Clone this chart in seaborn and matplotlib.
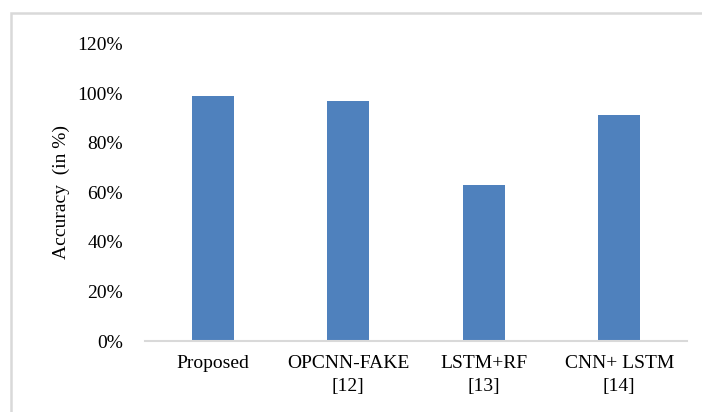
import matplotlib
matplotlib.use("Agg")
import matplotlib.pyplot as plt
from matplotlib.patches import Rectangle
from matplotlib.ticker import PercentFormatter
import seaborn as sns
import pandas as pd

# Accuracy of each method (fraction)
methods = ["Proposed", "OPCNN-FAKE\n[12]", "LSTM+RF\n[13]", "CNN+ LSTM\n[14]"]
accuracy = [0.99, 0.97, 0.63, 0.91]
y_ticks = [0.0, 0.2, 0.4, 0.6, 0.8, 1.0, 1.2]

df = pd.DataFrame({"method": methods, "accuracy": accuracy})

sns.set_style("white")
plt.rcParams["font.family"] = ["Liberation Serif", "DejaVu Serif"]
plt.rcParams["text.color"] = "black"
plt.rcParams["xtick.color"] = "black"
plt.rcParams["ytick.color"] = "black"
plt.rcParams["axes.labelcolor"] = "black"

fs = 14

fig = plt.figure(figsize=(7.02, 4.12), dpi=100)
ax = fig.add_axes([145 / 702, 1 - 341 / 412, 542 / 702, (341 - 43.5) / 412])

sns.barplot(data=df, x="method", y="accuracy", color="#4F81BD", width=0.31,
            saturation=1, linewidth=0, ax=ax)

ax.set_ylim(0, 1.2)
ax.set_xlim(-0.5, len(methods) - 0.5)
ax.set_yticks(y_ticks)
ax.yaxis.set_major_formatter(PercentFormatter(1.0, decimals=0))
ax.set_xlabel("")
ax.set_ylabel("Accuracy  (in %)", fontsize=fs, labelpad=5)

ax.tick_params(axis="y", length=0, pad=16, labelsize=fs)
ax.tick_params(axis="x", length=0, pad=10, labelsize=fs)
for lbl in ax.get_xticklabels():
    lbl.set_linespacing(1.45)

for side in ["top", "right", "left"]:
    ax.spines[side].set_visible(False)
ax.spines["bottom"].set_color("#d9d9d9")
ax.spines["bottom"].set_linewidth(1.5)
ax.grid(False)

# light frame around the chart area
fig.patches.append(Rectangle((11 / 702, -0.1), 1.2, 1 - 13 / 412 + 0.1,
                             transform=fig.transFigure, fill=False,
                             edgecolor="#d9d9d9", linewidth=1.8))

fig.savefig("out.png", dpi=100)
